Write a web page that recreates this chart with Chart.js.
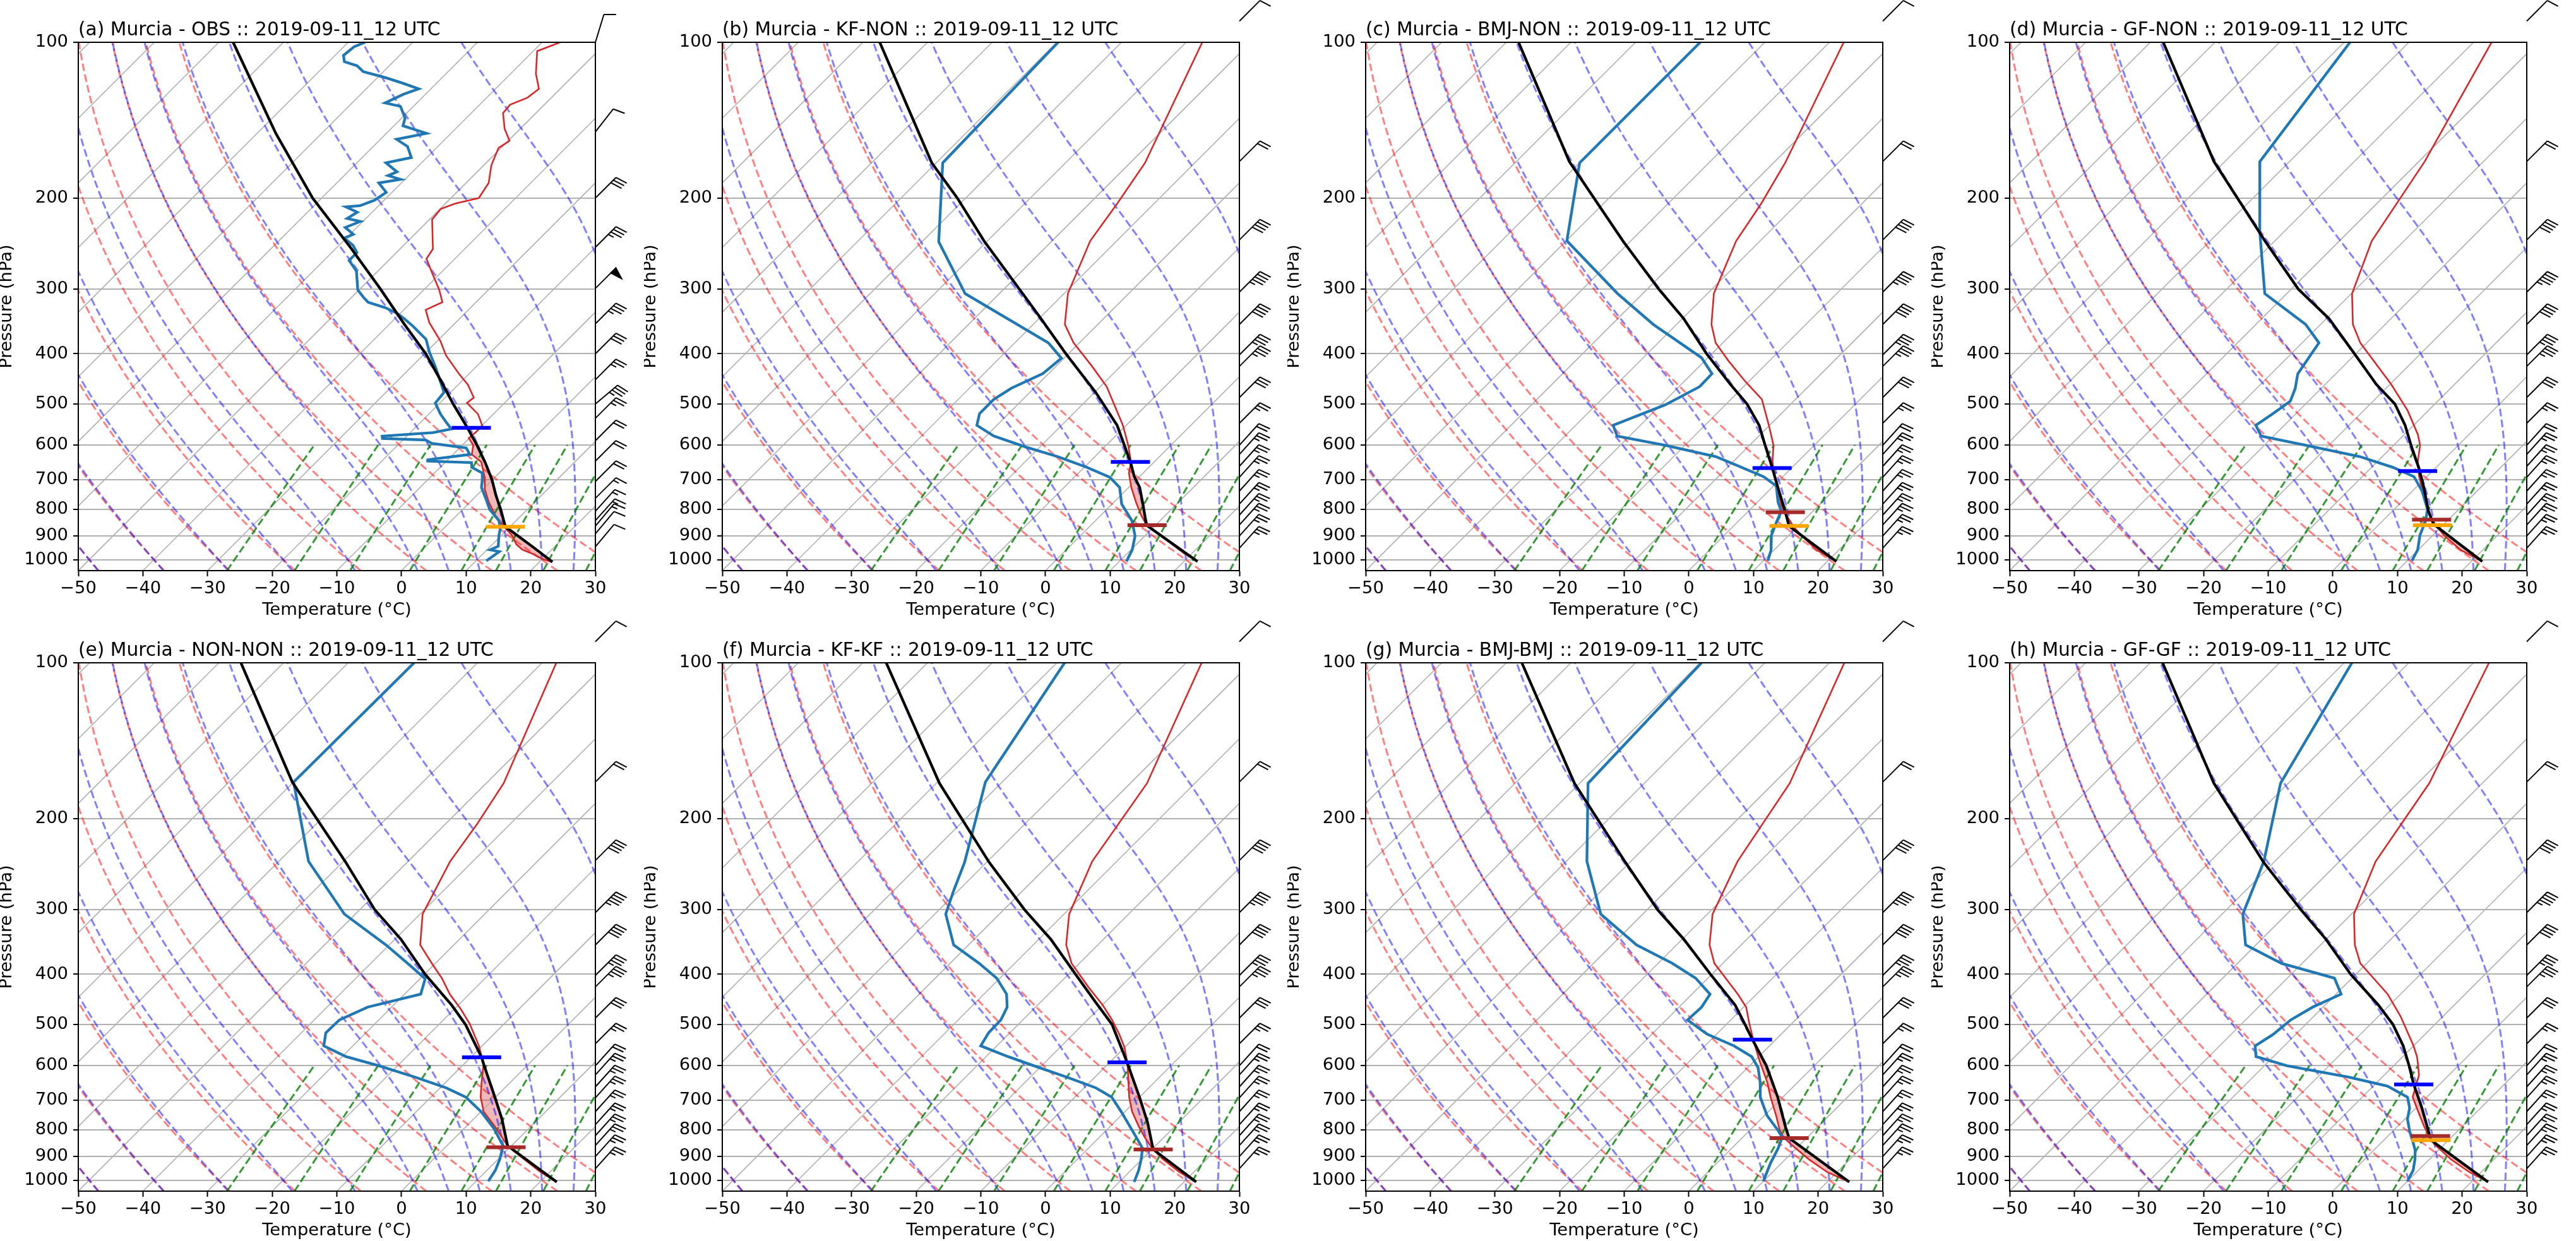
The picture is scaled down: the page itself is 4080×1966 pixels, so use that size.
<!DOCTYPE html>
<html>
<head>
<meta charset="utf-8">
<script src="https://cdn.jsdelivr.net/npm/chart.js@4.4.1/dist/chart.umd.min.js"></script>
<style>
  html, body { margin: 0; padding: 0; background: #fff; }
  #fig { position: relative; width: 4080px; height: 1966px; overflow: hidden; background: #fff; }
  #fig canvas { position: absolute; }
</style>
</head>
<body>
<div id="fig"></div>
<script>
// skew-T panels: Murcia soundings 2019-09-11 12 UTC (obs + 7 model runs)

const panelTitles = [
  '(a) Murcia - OBS :: 2019-09-11_12 UTC',
  '(b) Murcia - KF-NON :: 2019-09-11_12 UTC',
  '(c) Murcia - BMJ-NON :: 2019-09-11_12 UTC',
  '(d) Murcia - GF-NON :: 2019-09-11_12 UTC',
  '(e) Murcia - NON-NON :: 2019-09-11_12 UTC',
  '(f) Murcia - KF-KF :: 2019-09-11_12 UTC',
  '(g) Murcia - BMJ-BMJ :: 2019-09-11_12 UTC',
  '(h) Murcia - GF-GF :: 2019-09-11_12 UTC'
];

// (a) observed sounding
const aTempP = [100,104,115,123,128,132,137,147,155,160,173,187,200,205,210,220,251,262,277,301,318,329,348,378,403,437,459,486,498,523,550,566,582,601,626,647,691,731,774,820,864,897,934,957,976,997,1010];
const aTemp = [-57.2,-59.4,-56.1,-53.3,-53.7,-55.3,-55.1,-52.4,-49.8,-50.4,-48.8,-46.5,-45.7,-48.5,-49.9,-49.6,-44.9,-44.4,-41.7,-37.6,-35.2,-36.6,-34.1,-29.5,-26.4,-21.6,-18.5,-15.6,-15.8,-12.4,-10.0,-9.9,-10.1,-8.3,-7.1,-4.5,-1.7,0.3,2.9,5.9,9.1,11.6,13.7,15.5,17.9,20.0,21.9];
const aDewP = [100,102,106,109,111,114,117,120,123,126,131,133,140,145,150,154,159,167,171,178,181,184,187,195,202,207,208,213,219,222,228,235,239,247,255,264,277,301,311,318,326,334,342,354,375,397,423,452,475,498,523,541,559,568,577,583,587,596,608,626,641,645,649,663,680,702,725,762,800,840,868,897,942,957,965,1005];
const aDew = [-87.4,-88.4,-88.7,-87.6,-85.0,-83.1,-78.8,-75.2,-71.9,-73.4,-74.9,-72.0,-69.5,-68.6,-63.8,-67.5,-64.7,-62.4,-65.5,-62.4,-63.2,-60.7,-63.5,-60.9,-61.5,-62.9,-64.9,-62.3,-62.9,-60.4,-61.8,-59.5,-60.3,-57.8,-56.1,-56.1,-53.3,-50.2,-48.2,-46.7,-43.1,-40.5,-38.6,-36.0,-32.0,-29.5,-26.4,-23.3,-21.0,-20.7,-18.2,-16.2,-14.2,-16.5,-23.8,-23.4,-16.5,-15.0,-9.0,-7.4,-13.1,-12.9,-5.9,-5.1,-2.6,-1.5,-0.5,1.9,4.2,7.3,8.7,9.6,11.2,10.5,12.2,11.6];
const aParcelP = [100,150,200,250,300,350,400,450,500,550,600,650,700,750,800,864,900,950,1010];
const aParcel = [-107.8,-87.1,-71.4,-57.7,-46.8,-37.8,-29.8,-23.4,-17.8,-12.5,-7.8,-3.7,-0.1,2.9,5.9,9.3,12.7,17.1,22.0];

// (b) KF-NON
const bTempP = [100,171,205,242,306,351,381,423,463,499,550,601,647,680,725,774,820,856,912,974,1008];
const bTemp = [-57.5,-47.7,-45.7,-44.1,-39.4,-35.1,-30.9,-24.4,-19.0,-15.3,-10.5,-6.6,-3.6,-2.2,0.4,3.4,6.2,8.5,13.6,18.9,22.1];
const bDewP = [100,171,243,306,381,408,437,466,490,522,550,577,606,632,663,693,725,781,840,900,957,1008];
const bDew = [-79.8,-79.0,-67.4,-55.3,-34.8,-30.4,-30.9,-33.5,-34.5,-34.5,-33.1,-28.8,-22.1,-15.8,-9.6,-4.5,-1.4,1.5,5.6,8.5,10.2,11.1];
const bParcelP = [100,171,200,243,300,342,400,475,550,647,691,725,787,858,1008];
const bParcel = [-107.4,-80.7,-71.3,-60.3,-47.6,-39.7,-30.4,-19.8,-11.4,-3.7,-0.8,1.7,5.1,8.6,22.1];

// (c) BMJ-NON
const cTempP = [100,171,205,242,306,351,381,413,452,490,550,601,647,691,737,787,826,868,912,957,1008];
const cTemp = [-57.8,-48.2,-45.6,-43.7,-39.0,-34.6,-31.1,-26.3,-20.6,-15.2,-10.1,-6.3,-3.9,-1.3,1.5,4.3,6.9,9.7,13.1,16.5,21.4];
const cDewP = [100,171,242,306,351,407,437,463,502,550,577,601,632,658,691,720,774,806,840,897,957,1005];
const cDew = [-80.0,-80.0,-69.9,-53.9,-43.6,-31.0,-26.9,-26.8,-29.3,-34.2,-31.9,-23.1,-13.5,-8.7,-3.0,0.4,3.2,5.1,5.9,7.3,9.5,10.7];
const cParcelP = [100,170,243,300,342,400,459,500,550,601,666,725,806,861,1008];
const cParcel = [-108.1,-81.8,-61.0,-48.2,-39.8,-30.8,-22.3,-16.8,-11.6,-7.6,-2.9,0.9,5.7,8.6,21.4];

// (d) GF-NON
const dTempP = [100,170,242,306,351,381,459,515,573,601,647,691,737,787,840,897,957,1008];
const dTemp = [-57.2,-49.1,-45.0,-39.9,-35.0,-31.0,-19.7,-13.2,-7.9,-5.9,-3.7,-1.2,1.6,4.5,7.6,11.7,16.5,21.7];
const dDewP = [100,170,232,306,351,381,437,467,494,523,550,577,601,632,663,691,737,800,840,897,957,1005];
const dDew = [-79.1,-74.6,-63.8,-53.4,-42.3,-37.4,-35.9,-34.0,-32.8,-33.6,-34.4,-31.9,-23.6,-13.5,-6.7,-2.0,1.5,5.2,6.6,8.0,9.9,10.7];
const dParcelP = [100,170,243,300,342,400,459,500,550,601,666,725,806,854,1008];
const dParcel = [-108.0,-81.7,-61.3,-48.9,-39.6,-30.2,-22.0,-16.2,-11.3,-7.3,-2.5,1.2,5.6,8.4,21.7];

// (e) NON-NON
const eTempP = [100,171,205,242,306,351,384,407,437,467,499,550,596,652,691,737,787,826,861,912,965,1008];
const eTemp = [-57.8,-47.3,-45.1,-43.5,-39.6,-35.2,-30.1,-26.7,-23.0,-19.0,-15.3,-10.5,-7.0,-4.2,-2.3,0.4,4.4,7.2,9.6,14.1,18.6,22.6];
const eDewP = [100,170,242,306,351,381,408,437,463,490,519,550,577,601,632,663,691,737,793,858,912,957,1005];
const eDew = [-79.8,-80.0,-65.4,-51.7,-40.5,-34.3,-29.2,-27.5,-33.7,-36.1,-36.2,-34.5,-29.4,-22.9,-15.6,-9.1,-4.6,0.0,4.5,8.7,10.3,11.3,11.9];
const eParcelP = [100,170,243,300,342,400,459,500,579,601,691,762,858,1008];
const eParcel = [-106.6,-80.2,-59.5,-47.7,-39.1,-29.9,-21.0,-15.9,-8.3,-6.6,-0.1,4.4,9.4,22.6];

// (f) KF-KF
const fTempP = [100,171,242,306,351,381,423,459,490,523,554,596,647,691,737,787,826,868,912,965,1008];
const fTemp = [-57.6,-47.4,-43.8,-39.2,-34.9,-31.2,-25.0,-19.9,-16.2,-12.8,-10.0,-7.0,-4.0,-1.6,1.1,4.4,7.0,9.9,13.3,17.8,21.9];
const fDewP = [100,170,200,243,277,306,351,381,407,437,463,490,519,550,577,601,632,663,691,737,820,868,912,957,1008];
const fDew = [-78.8,-72.6,-68.4,-63.4,-60.6,-58.3,-52.3,-45.5,-40.5,-36.5,-34.4,-33.4,-33.3,-32.5,-26.6,-21.2,-14.4,-8.2,-4.3,-0.6,5.3,8.4,9.9,11.2,12.3];
const fParcelP = [100,171,243,300,342,400,452,500,592,691,774,872,1008];
const fParcel = [-106.4,-79.5,-59.6,-46.8,-38.2,-28.9,-21.6,-15.5,-7.3,0.0,5.2,10.2,21.9];

// (g) BMJ-BMJ
const gTempP = [100,171,242,306,351,381,437,463,499,536,587,647,691,750,800,826,854,912,965,1008];
const gTemp = [-57.7,-47.5,-43.5,-39.2,-34.9,-31.3,-22.9,-19.6,-16.5,-13.4,-9.3,-4.7,-1.9,1.8,4.6,6.3,8.7,13.7,18.5,23.4];
const gDewP = [100,171,242,306,351,381,407,437,463,490,522,550,577,606,647,691,750,800,826,868,927,1005];
const gDew = [-79.8,-78.7,-66.8,-56.5,-46.2,-37.8,-31.9,-27.2,-26.5,-26.7,-21.5,-15.5,-11.1,-8.4,-5.8,-3.5,0.4,4.3,6.1,7.2,8.3,10.0];
const gParcelP = [100,171,243,300,342,400,459,500,535,601,691,787,829,1008];
const gParcel = [-107.6,-80.8,-60.7,-48.4,-39.8,-30.2,-21.6,-17.1,-13.6,-7.4,-0.8,4.9,7.3,23.4];

// (h) GF-GF
const hTempP = [100,171,242,306,351,381,437,483,550,577,601,627,691,737,787,826,854,912,965,1008];
const hTemp = [-57.6,-48.2,-44.4,-39.6,-34.7,-31.0,-22.0,-16.5,-10.0,-7.8,-6.2,-4.6,-2.2,0.9,4.1,6.6,8.6,13.4,18.2,22.6];
const hDewP = [100,171,242,306,351,381,407,437,463,490,523,550,577,601,632,658,691,725,762,806,840,875,912,957,1005];
const hDew = [-78.8,-71.2,-61.7,-56.8,-51.6,-43.2,-32.7,-29.2,-31.6,-33.0,-33.5,-34.5,-32.7,-26.5,-15.2,-7.8,-3.0,-1.0,0.4,2.7,4.6,6.4,7.8,9.2,10.0];
const hParcelP = [100,171,243,300,342,400,459,500,550,601,653,725,813,837,1008];
const hParcel = [-108.1,-81.5,-61.6,-48.5,-40.1,-30.8,-21.7,-16.5,-11.6,-7.6,-4.0,0.9,6.0,7.3,22.6];

// level markers per panel (a..h), null where absent
const orangeP = [864, null, 861, 858, null, null, null, 837];
const orangeT = [9.3, null, 8.6, 8.4, null, null, null, 7.3];
const brownP = [null, 858, 810, 837, 864, 872, 829, 822];
const brownT = [null, 8.7, 5.9, 7.4, 9.4, 10.2, 7.3, 6.6];
const blueP = [556, 647, 665, 674, 579, 592, 535, 653];
const blueT = [-11.3, -3.7, -3.0, -2.3, -8.3, -7.3, -13.6, -4.0];

// wind barbs (kt, direction wind blows from)
const windObsP = [100,149,200,249,299,350,400,449,500,533,589,645,706,761,806,840,861,891,944];
const windObsSpd = [10,10,30,35,50,35,30,25,35,25,20,20,20,15,15,15,15,10,10];
const windObsDir = [17,38,45,45,45,45,45,45,50,45,45,45,45,45,42,42,40,40,40];
const windModP = [91,170,241,304,351,402,423,486,545,601,626,660,693,737,781,820,857,900,950];
const windModSpd = [10,20,40,45,40,35,35,30,25,20,25,25,25,25,25,25,25,25,25];
const windModDir = [45,45,45,45,45,45,45,45,45,42,42,42,42,42,42,42,42,42,42];

const xTicks = [-50, -40, -30, -20, -10, 0, 10, 20, 30];
const pTicks = [100, 200, 300, 400, 500, 600, 700, 800, 900, 1000];

const panelData = [
  [aTempP, aTemp, aDewP, aDew, aParcelP, aParcel],
  [bTempP, bTemp, bDewP, bDew, bParcelP, bParcel],
  [cTempP, cTemp, cDewP, cDew, cParcelP, cParcel],
  [dTempP, dTemp, dDewP, dDew, dParcelP, dParcel],
  [eTempP, eTemp, eDewP, eDew, eParcelP, eParcel],
  [fTempP, fTemp, fDewP, fDew, fParcelP, fParcel],
  [gTempP, gTemp, gDewP, gDew, gParcelP, gParcel],
  [hTempP, hTemp, hDewP, hDew, hParcelP, hParcel]
];

// ---- layout / skew ----
const FONT = '"DejaVu Sans"';
const COL_STEP = 1019.67, ROW_H = 983;
const AREA_LEFT = 124, AREA_TOP = 67, AREA_W = 819, AREA_H = 837;
const P_BOTTOM = 1050, P_TOP = 100;
const SKEW = 80 * AREA_H / AREA_W;   // 45 degree isotherms on screen
const DASH = [12, 5.5];
const GAP = { x: null, y: null };

function skewX(t, p) {
  return t + SKEW * Math.log(P_BOTTOM / p) / Math.log(P_BOTTOM / P_TOP);
}
function profile(ps, ts) {
  return ps.map((p, i) => ({ x: skewX(ts[i], p), y: p }));
}
function logLevels(p0, p1, n) {
  const out = [];
  for (let i = 0; i <= n; i++) out.push(p0 * Math.pow(p1 / p0, i / n));
  return out;
}

// ---- background lines (isotherms, adiabats, mixing ratio) ----
const bgLevels = logLevels(P_BOTTOM, P_TOP, 60);

function isotherms() {
  const pts = [];
  for (let t = -140; t <= 30; t += 10) {
    pts.push({ x: skewX(t, P_BOTTOM), y: P_BOTTOM }, { x: skewX(t, P_TOP), y: P_TOP }, GAP);
  }
  return pts;
}

function dryAdiabats() {
  const pts = [];
  for (let t0 = -50; t0 <= 30; t0 += 10) {
    const th = t0 + 273.15;
    bgLevels.forEach(p => pts.push({ x: skewX(th * Math.pow(p / 1000, 0.28571) - 273.15, p), y: p }));
    pts.push(GAP);
  }
  return pts;
}

function moistRate(p, tk) {
  const es = 6.112 * Math.exp(17.67 * (tk - 273.15) / (tk - 29.65));
  const rs = 0.62196 * es / (p - es);
  const lv = 2.50084e6, rd = 287.0475, cp = 1004.666;
  return (rd * tk + lv * rs) / (cp + lv * lv * rs * 0.62196 / (rd * tk * tk)) / p;
}
function moistStep(tk, p0, p1) {
  const n = Math.max(1, Math.ceil(Math.abs(p1 - p0) / 2));
  const h = (p1 - p0) / n;
  let p = p0;
  for (let i = 0; i < n; i++) {
    const k1 = moistRate(p, tk);
    const k2 = moistRate(p + h / 2, tk + h * k1 / 2);
    const k3 = moistRate(p + h / 2, tk + h * k2 / 2);
    const k4 = moistRate(p + h, tk + h * k3);
    tk += h * (k1 + 2 * k2 + 2 * k3 + k4) / 6;
    p += h;
  }
  return tk;
}
function moistAdiabats() {
  const pts = [];
  const starts = [-50, -40, -30, -20, -10, 0, 5, 10, 15, 20, 25, 30];
  starts.forEach(t0 => {
    let tk = moistStep(t0 + 273.15, 1000, P_BOTTOM);
    let p = P_BOTTOM;
    bgLevels.forEach(pl => {
      tk = moistStep(tk, p, pl);
      p = pl;
      pts.push({ x: skewX(tk - 273.15, pl), y: pl });
    });
    pts.push(GAP);
  });
  return pts;
}

function mixingLines() {
  const pts = [];
  const levels = logLevels(P_BOTTOM, 600, 12);
  [0.0004, 0.001, 0.002, 0.004, 0.007, 0.01, 0.016, 0.024, 0.032].forEach(w => {
    levels.forEach(p => {
      const l = Math.log((p * w / (0.62196 + w)) / 6.112);
      pts.push({ x: skewX(243.5 * l / (17.67 - l), p), y: p });
    });
    pts.push(GAP);
  });
  return pts;
}

const BG_ISO = isotherms(), BG_DRY = dryAdiabats(), BG_MOIST = moistAdiabats(), BG_MIX = mixingLines();

// ---- helpers for shading / barbs ----
function interpSkew(ps, ts, p) {
  for (let i = 0; i < ps.length - 1; i++) {
    if (p >= ps[i] && p <= ps[i + 1]) {
      const f = Math.log(p / ps[i]) / Math.log(ps[i + 1] / ps[i]);
      const x0 = skewX(ts[i], ps[i]), x1 = skewX(ts[i + 1], ps[i + 1]);
      return x0 + (x1 - x0) * f;
    }
  }
  return null;
}

function drawBarb(ctx, x, y, spd, dir) {
  const L = 46, fh = 0.4 * L, fw = 0.25 * L, sp = 0.125 * L;
  const a = dir * Math.PI / 180;
  const dx = Math.sin(a), dy = -Math.cos(a);
  const rx = Math.cos(a), ry = Math.sin(a);
  const P = o => [x + dx * o, y + dy * o];
  ctx.beginPath();
  ctx.moveTo(x, y);
  const tip = P(L);
  ctx.lineTo(tip[0], tip[1]);
  ctx.stroke();
  let s = Math.round(spd / 5) * 5;
  const flags = Math.floor(s / 50); s -= flags * 50;
  const full = Math.floor(s / 10); s -= full * 10;
  const half = s >= 5;
  let off = L;
  for (let i = 0; i < flags; i++) {
    if (off !== L) off += sp / 2;
    const a0 = P(off), a1 = P(off - fw / 2), a2 = P(off - fw);
    ctx.beginPath();
    ctx.moveTo(a0[0], a0[1]);
    ctx.lineTo(a1[0] + fh * rx, a1[1] + fh * ry);
    ctx.lineTo(a2[0], a2[1]);
    ctx.closePath();
    ctx.fill();
    ctx.stroke();
    off -= fw + sp;
  }
  for (let i = 0; i < full; i++) {
    const b0 = P(off), b1 = P(off + fw / 2);
    ctx.beginPath();
    ctx.moveTo(b0[0], b0[1]);
    ctx.lineTo(b1[0] + fh * rx, b1[1] + fh * ry);
    ctx.stroke();
    off -= sp;
  }
  if (half) {
    if (off === L) off -= 1.5 * sp;
    const h0 = P(off), h1 = P(off + fw / 4);
    ctx.beginPath();
    ctx.moveTo(h0[0], h0[1]);
    ctx.lineTo(h1[0] + fh / 2 * rx, h1[1] + fh / 2 * ry);
    ctx.stroke();
  }
}

function skewPlugin(i) {
  const [tp, tt, , , pp, pt] = panelData[i];
  const wp = i === 0 ? windObsP : windModP;
  const ws = i === 0 ? windObsSpd : windModSpd;
  const wd = i === 0 ? windObsDir : windModDir;
  return {
    id: 'skew' + i,
    beforeDatasetsDraw(chart) {
      // positive area: parcel warmer than environment
      const { ctx, chartArea: ca, scales: { x, y } } = chart;
      const pLo = Math.max(tp[0], pp[0]), pHi = Math.min(tp[tp.length - 1], pp[pp.length - 1]);
      const n = 500;
      let run = [];
      ctx.save();
      ctx.beginPath();
      ctx.rect(ca.left, ca.top, ca.right - ca.left, ca.bottom - ca.top);
      ctx.clip();
      ctx.fillStyle = 'rgba(214,39,40,0.33)';
      const flush = () => {
        if (run.length > 1) {
          ctx.beginPath();
          run.forEach((r, k) => {
            const px = x.getPixelForValue(r.xp), py = y.getPixelForValue(r.p);
            if (k === 0) ctx.moveTo(px, py); else ctx.lineTo(px, py);
          });
          for (let k = run.length - 1; k >= 0; k--) {
            ctx.lineTo(x.getPixelForValue(run[k].xt), y.getPixelForValue(run[k].p));
          }
          ctx.closePath();
          ctx.fill();
        }
        run = [];
      };
      for (let k = 0; k <= n; k++) {
        const p = pLo * Math.pow(pHi / pLo, k / n);
        const xp = interpSkew(pp, pt, p), xt = interpSkew(tp, tt, p);
        if (xp === null || xt === null) continue;
        if (xp > xt) run.push({ p, xp, xt });
        else { if (run.length) run.push({ p, xp: xt, xt }); flush(); }
      }
      flush();
      ctx.restore();
    },
    afterDraw(chart) {
      const { ctx, chartArea: ca, scales: { y } } = chart;
      ctx.save();
      // frame
      ctx.strokeStyle = '#000';
      ctx.lineWidth = 2;
      ctx.strokeRect(ca.left, ca.top, ca.right - ca.left, ca.bottom - ca.top);
      // barbs
      ctx.fillStyle = '#000';
      ctx.lineWidth = 2;
      ctx.lineJoin = 'miter';
      wp.forEach((p, k) => drawBarb(ctx, ca.right, y.getPixelForValue(p), ws[k], wd[k]));
      // texts
      ctx.fillStyle = '#000';
      ctx.font = '29.7px ' + FONT;
      ctx.textAlign = 'left';
      ctx.textBaseline = 'alphabetic';
      ctx.fillText(panelTitles[i], ca.left, 55.5);
      ctx.font = '27.4px ' + FONT;
      ctx.textAlign = 'center';
      ctx.textBaseline = 'middle';
      ctx.fillText('Temperature (\u00B0C)', (ca.left + ca.right) / 2, 967);
      ctx.translate(11, (ca.top + ca.bottom) / 2);
      ctx.rotate(-Math.PI / 2);
      ctx.fillText('Pressure (hPa)', 0, 0);
      ctx.restore();
    }
  };
}

function line(data, color, width, dash, order) {
  return {
    data, borderColor: color, backgroundColor: color, borderWidth: width, borderDash: dash,
    showLine: true, pointRadius: 0, fill: false, tension: 0, spanGaps: false, order, clip: 0
  };
}
function marker(p, t, color) {
  return {
    data: [{ x: skewX(t, p), y: p }], showLine: false, pointStyle: 'line', pointRadius: 31,
    pointBorderWidth: 6, borderColor: color, pointBorderColor: color, order: 0
  };
}

function makePanel(i) {
  const col = i % 4, row = Math.floor(i / 4);
  const left = Math.round(col * COL_STEP);
  const width = col === 3 ? 4080 - left : Math.round((col + 1) * COL_STEP) - left;
  const cv = document.createElement('canvas');
  cv.width = width;
  cv.height = ROW_H;
  cv.style.left = left + 'px';
  cv.style.top = row * ROW_H + 'px';
  cv.style.width = width + 'px';
  cv.style.height = ROW_H + 'px';
  document.getElementById('fig').appendChild(cv);

  const [tp, tt, dp, dt, pp, pt] = panelData[i];
  const datasets = [];
  if (blueP[i] !== null) datasets.push(marker(blueP[i], blueT[i], '#0000ff'));
  if (orangeP[i] !== null) datasets.push(marker(orangeP[i], orangeT[i], '#ffa500'));
  if (brownP[i] !== null) datasets.push(marker(brownP[i], brownT[i], '#a52a2a'));
  datasets.push(
    line(profile(pp, pt), '#000000', 4.3, [], 1),
    line(profile(dp, dt), '#1f77b4', 4.3, [], 2),
    line(profile(tp, tt), '#d62728', 2.6, [], 3),
    line(BG_MIX.slice(), 'rgba(0,128,0,0.8)', 3, DASH, 4),
    line(BG_MOIST.slice(), 'rgba(0,0,255,0.5)', 3, DASH, 5),
    line(BG_DRY.slice(), 'rgba(255,0,0,0.5)', 3, DASH, 6),
    line(BG_ISO.slice(), '#b0b0b0', 1.6, [], 7)
  );

  new Chart(cv, {
    type: 'scatter',
    data: { datasets },
    options: {
      responsive: false,
      animation: false,
      devicePixelRatio: 1,
      events: [],
      layout: { padding: { left: 0, top: AREA_TOP, right: width - AREA_LEFT - AREA_W, bottom: 0 } },
      plugins: { legend: { display: false }, tooltip: { enabled: false } },
      scales: {
        x: {
          type: 'linear', min: -50, max: 30,
          afterFit: s => { s.height = ROW_H - AREA_TOP - AREA_H; },
          afterBuildTicks: s => { s.ticks = xTicks.map(v => ({ value: v })); },
          border: { display: true, color: '#000', width: 2 },
          grid: { display: true, drawOnChartArea: false, drawTicks: true, tickLength: 9, tickColor: '#000', tickWidth: 2, color: '#000' },
          ticks: {
            autoSkip: false, maxRotation: 0, padding: 3, color: '#000',
            font: { family: 'DejaVu Sans', size: 27.4 },
            callback: v => (v < 0 ? '\u2212' + Math.abs(v) : String(v))
          }
        },
        y: {
          type: 'logarithmic', reverse: true, min: P_TOP, max: P_BOTTOM,
          afterFit: s => { s.width = AREA_LEFT; },
          afterBuildTicks: s => { s.ticks = pTicks.map(v => ({ value: v })); },
          border: { display: true, color: '#000', width: 2 },
          grid: { display: true, drawOnChartArea: true, drawTicks: true, tickLength: 8, color: '#b0b0b0', lineWidth: 2, tickColor: '#000', tickWidth: 2 },
          ticks: {
            autoSkip: false, padding: 8, color: '#000',
            font: { family: 'DejaVu Sans', size: 27.4 },
            callback: v => String(v)
          }
        }
      }
    },
    plugins: [skewPlugin(i)]
  });
}

for (let i = 0; i < 8; i++) makePanel(i);
</script>
</body>
</html>
